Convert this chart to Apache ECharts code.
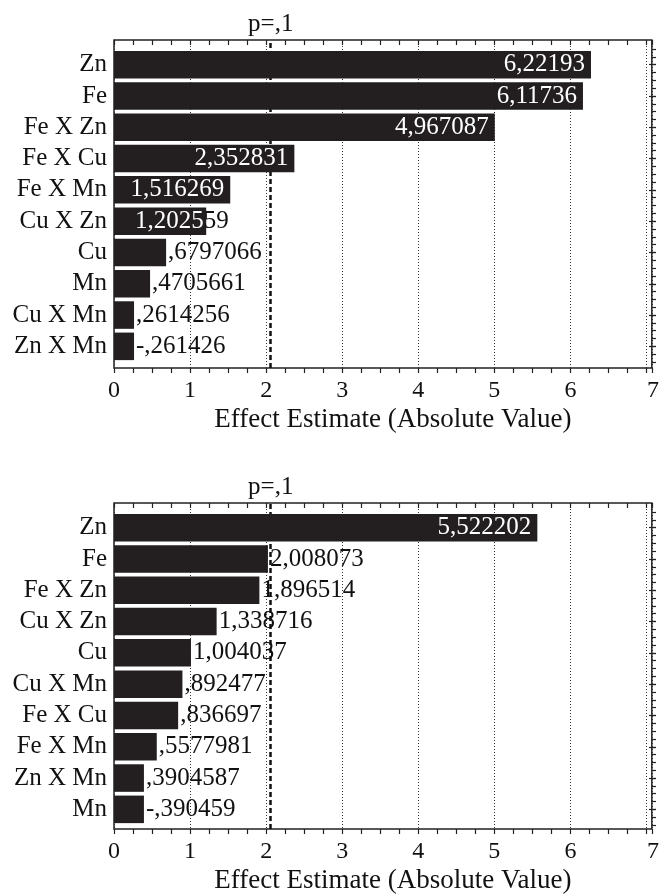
<!DOCTYPE html>
<html>
<head>
<meta charset="utf-8">
<script src="https://cdn.jsdelivr.net/npm/echarts@6/dist/echarts.min.js"></script>
<style>html,body{margin:0;padding:0;background:#fff}#c{width:662px;height:895px}</style>
</head>
<body>
<div id="c"></div>
<script>
// ---- data ----
const categoriesTop = ['Zn', 'Fe', 'Fe X Zn', 'Fe X Cu', 'Fe X Mn', 'Cu X Zn', 'Cu', 'Mn', 'Cu X Mn', 'Zn X Mn'];
const effectsTop = [6.22193, 6.11736, 4.967087, 2.352831, 1.516269, 1.202559, 0.6797066, 0.4705661, 0.2614256, -0.261426];
const categoriesBottom = ['Zn', 'Fe', 'Fe X Zn', 'Cu X Zn', 'Cu', 'Cu X Mn', 'Fe X Cu', 'Fe X Mn', 'Zn X Mn', 'Mn'];
const effectsBottom = [5.522202, 2.008073, 1.896514, 1.338716, 1.004037, 0.892477, 0.836697, 0.5577981, 0.3904587, -0.390459];
const xTickLabels = ['0', '1', '2', '3', '4', '5', '6', '7'];
const pCritical = 2.06;
const pLabel = 'p=,1';
const axisTitle = 'Effect Estimate (Absolute Value)';

// ---- label placement style (how the original placed each value label) ----
const labelModeTop = ['in', 'in', 'in', 'in', 'in', 'split', 'out', 'out', 'out', 'out'];
const labelModeBottom = ['in', 'out', 'out', 'out', 'out', 'out', 'out', 'out', 'out', 'out'];

// ---- layout / style ----
const FONT = '"Liberation Serif", "Times New Roman", serif';
const LEFT = 114, RIGHTW = 542;
const X_MAX = 7.07;
const BAR_COLOR = '#231f20';
const TXT = '#111';
const LABEL_FS = 25;
const chartsLayout = [
  { frameTop: 40, barTop: 49, cats: categoriesTop, eff: effectsTop, modes: labelModeTop },
  { frameTop: 503, barTop: 512, cats: categoriesBottom, eff: effectsBottom, modes: labelModeBottom }
];
const FRAME_H = 328, BAR_H = 313;

const ctx = document.createElement('canvas').getContext('2d');
ctx.font = LABEL_FS + 'px ' + FONT;

function fmt(v) {
  return String(v).replace('.', ',').replace(/^(-?)0,/, '$1,');
}

const grid = [], xAxis = [], yAxis = [], series = [];

chartsLayout.forEach((c) => {
  const gF = grid.length;
  grid.push({ left: LEFT, top: c.frameTop, width: RIGHTW, height: FRAME_H, show: true,
    borderColor: '#222', borderWidth: 1.5, backgroundColor: 'transparent', containLabel: false });
  const gB = grid.length;
  grid.push({ left: LEFT, top: c.barTop, width: RIGHTW, height: BAR_H, containLabel: false });

  // frame x axis: labels + dotted gridlines
  const xLab = xAxis.length;
  xAxis.push({
    gridIndex: gF, type: 'value', position: 'bottom', min: 0, max: X_MAX, interval: 1,
    axisLine: { show: false }, axisTick: { show: false },
    axisLabel: {
      margin: 11, fontFamily: FONT, fontSize: 24, color: TXT,
      formatter: (v) => {
        if (!(Number.isInteger(v) && xTickLabels[v] !== undefined)) return '';
        return v === xTickLabels.length - 1 ? '{last|' + xTickLabels[v] + '}' : xTickLabels[v];
      },
      rich: { last: { fontFamily: FONT, fontSize: 24, color: TXT, padding: [0, 0, 0, 13] } }
    },
    splitLine: { show: true, lineStyle: { color: '#333', width: 1, type: [1, 2] } },
    name: axisTitle, nameLocation: 'middle', nameGap: 38,
    nameTextStyle: { fontFamily: FONT, fontSize: 27, color: TXT, padding: [0, 0, 0, 20] }
  });
  // bottom ticks at quarter units
  xAxis.push({
    gridIndex: gF, type: 'value', position: 'bottom', min: 0, max: X_MAX, interval: 0.25,
    axisLine: { show: false }, axisLabel: { show: false }, splitLine: { show: false },
    axisTick: { show: true, inside: false, length: 5, lineStyle: { color: '#222', width: 1.2 } }
  });
  // top ticks at quarter units
  xAxis.push({
    gridIndex: gF, type: 'value', position: 'top', min: 0, max: X_MAX, interval: 0.25,
    axisLine: { show: false }, axisLabel: { show: false }, splitLine: { show: false },
    axisTick: { show: true, inside: true, length: 5, lineStyle: { color: '#222', width: 1.2 } }
  });
  const xBar = xAxis.length;
  xAxis.push({ gridIndex: gB, type: 'value', min: 0, max: X_MAX, show: false });

  const yF = yAxis.length;
  yAxis.push({ gridIndex: gF, type: 'value', min: 0, max: 1, show: false });
  const yCat = yAxis.length;
  yAxis.push({
    gridIndex: gB, type: 'category', data: c.cats, inverse: true, position: 'left',
    axisLine: { show: false }, axisTick: { show: false },
    axisLabel: { interval: 0, margin: 7, fontFamily: FONT, fontSize: LABEL_FS, color: TXT }
  });
  yAxis.push({
    gridIndex: gB, type: 'value', min: 0, max: 40, interval: 1, position: 'right',
    axisLine: { show: false }, axisLabel: { show: false }, splitLine: { show: false },
    axisTick: { show: true, inside: true, length: 4, lineStyle: { color: '#222', width: 1.2 } }
  });
  yAxis.push({
    gridIndex: gB, type: 'category', data: c.cats, inverse: true, position: 'right',
    axisLine: { show: false }, axisLabel: { show: false },
    axisTick: { show: true, inside: true, alignWithLabel: true, interval: 0, length: 7, lineStyle: { color: '#222', width: 1.2 } }
  });

  // p-level reference line (behind bars)
  series.push({
    type: 'scatter', xAxisIndex: xLab, yAxisIndex: yF, data: [], z: 1, silent: true,
    markLine: {
      silent: true, symbol: 'none', animation: false, z: 1,
      lineStyle: { color: '#111', width: 2.5, type: [5, 3] },
      label: { show: true, position: 'end', distance: 3, formatter: pLabel,
        fontFamily: FONT, fontSize: 25, color: TXT },
      data: [{ xAxis: pCritical }]
    }
  });

  const pxPerUnit = RIGHTW / X_MAX;
  const data = c.eff.map((v, i) => {
    const val = Math.abs(v);
    const txt = fmt(v);
    const mode = c.modes[i];
    let label;
    if (mode === 'in') {
      label = { show: true, position: 'insideRight', distance: 6, color: '#fff', formatter: txt };
    } else if (mode === 'split') {
      const start = 21;
      const avail = val * pxPerUnit - start;
      let n = 0;
      while (n < txt.length && ctx.measureText(txt.slice(0, n + 1)).width <= avail) n++;
      const w = txt.slice(0, n), k = txt.slice(n);
      label = { show: true, position: 'insideLeft', distance: start,
        formatter: (w ? '{w|' + w + '}' : '') + (k ? '{k|' + k + '}' : ''),
        rich: { w: { color: '#fff', fontFamily: FONT, fontSize: LABEL_FS },
                k: { color: TXT, fontFamily: FONT, fontSize: LABEL_FS } } };
    } else {
      label = { show: true, position: 'right', distance: 2, color: TXT, formatter: txt };
    }
    label.fontFamily = FONT;
    label.fontSize = LABEL_FS;
    return { value: val, label };
  });
  series.push({
    type: 'bar', xAxisIndex: xBar, yAxisIndex: yCat, data, z: 3,
    barCategoryGap: '12%', itemStyle: { color: BAR_COLOR }, animation: false
  });
});

const chart = echarts.init(document.getElementById('c'));
chart.setOption({ animation: false, backgroundColor: '#fff', grid, xAxis, yAxis, series });
</script>
</body>
</html>
